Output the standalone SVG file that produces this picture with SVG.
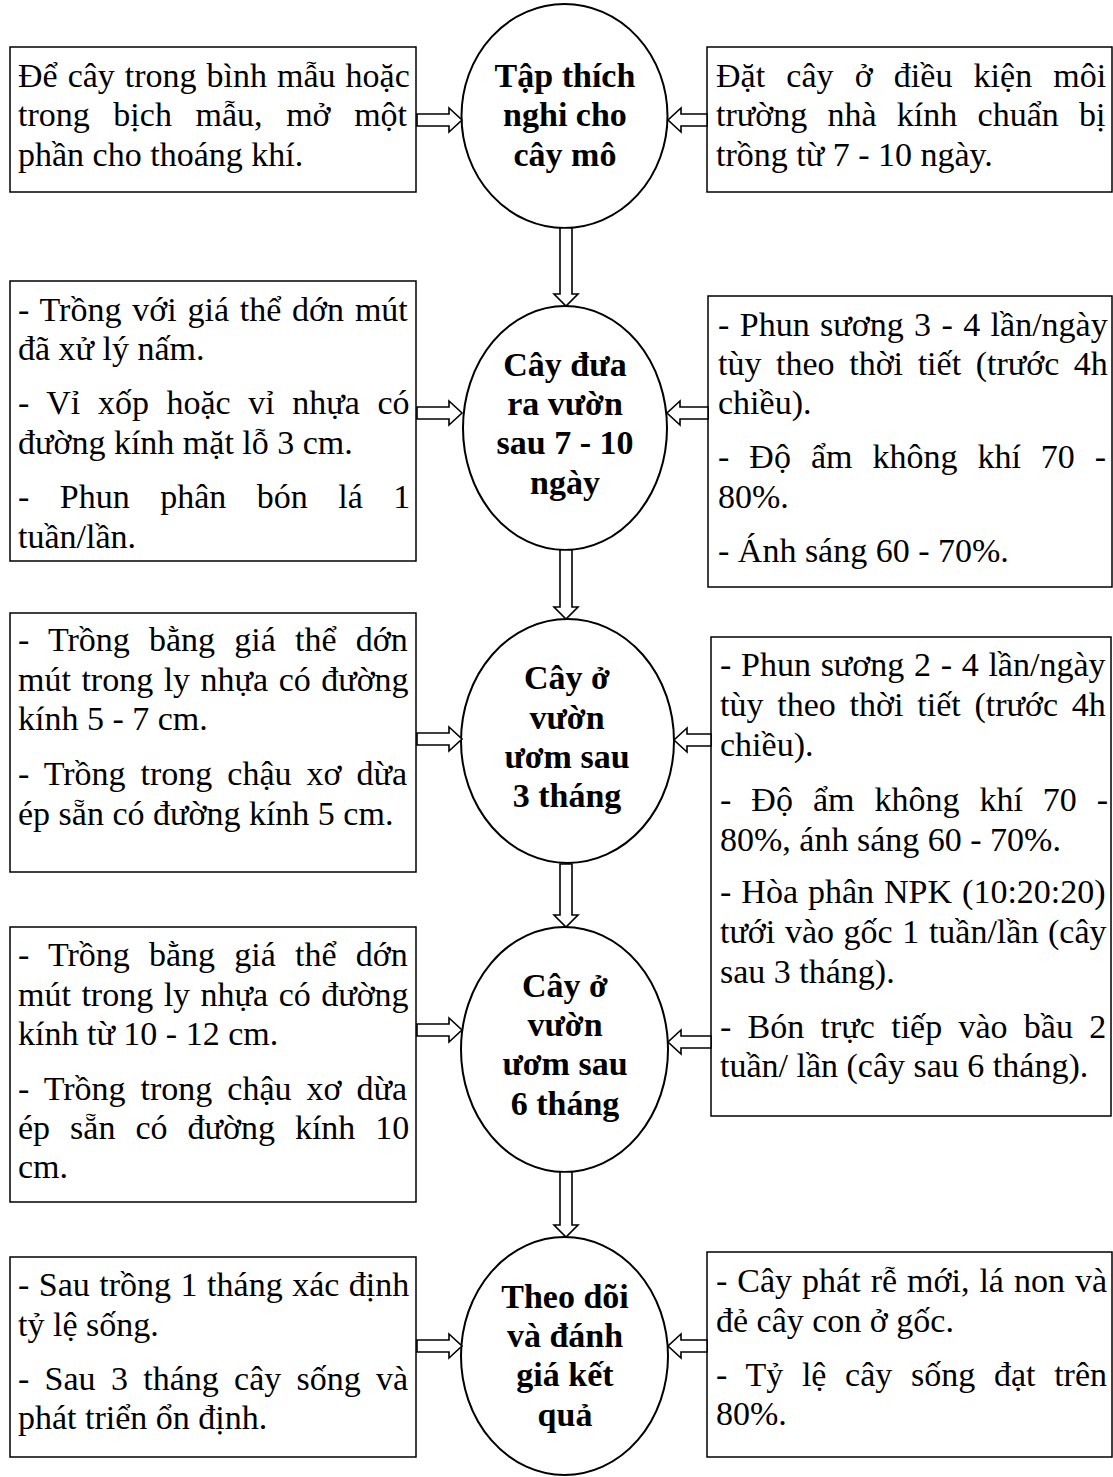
<svg xmlns="http://www.w3.org/2000/svg" width="1113" height="1477" viewBox="0 0 1113 1477">
  <style>
    .box { fill: #fff; stroke: #000; stroke-width: 1.5; }
    .node { fill: #fff; stroke: #000; stroke-width: 2; }
    .arrow { fill: #fff; stroke: #000; stroke-width: 1.6; stroke-linejoin: miter; }
    text { font-family: "Liberation Serif", "Times New Roman", serif; font-size: 34px; fill: #000; }
    .title { font-weight: bold; text-anchor: middle; }
  </style>
  <rect width="1113" height="1477" fill="#fff"/>

  <!-- step 1 -->
  <g id="left-1">
    <rect class="box" x="10" y="47" width="406" height="145"/>
    <text x="18" y="87" style="word-spacing:1.5px">Để cây trong bình mẫu hoặc</text>
    <text x="18" y="126" style="word-spacing:15.1px">trong bịch mẫu, mở một</text>
    <text x="18" y="166">phần cho thoáng khí.</text>
  </g>
  <g id="node-1">
    <ellipse class="node" cx="564.5" cy="116" rx="103" ry="112"/>
    <text class="title" x="565" y="87">Tập thích</text>
    <text class="title" x="565" y="126">nghi cho</text>
    <text class="title" x="565" y="166">cây mô</text>
  </g>
  <g id="right-1">
    <rect class="box" x="707" y="47" width="405" height="145"/>
    <text x="716" y="87" style="word-spacing:12.7px">Đặt cây ở điều kiện môi</text>
    <text x="716" y="126" style="word-spacing:11.8px">trường nhà kính chuẩn bị</text>
    <text x="716" y="166">trồng từ 7 - 10 ngày.</text>
  </g>

  <!-- step 2 -->
  <g id="left-2">
    <rect class="box" x="10" y="281" width="406" height="280"/>
    <text x="18" y="321" style="word-spacing:2.3px">- Trồng với giá thể dớn mút</text>
    <text x="18" y="360">đã xử lý nấm.</text>
    <text x="18" y="414" style="word-spacing:9.1px">- Vỉ xốp hoặc vỉ nhựa có</text>
    <text x="18" y="454">đường kính mặt lỗ 3 cm.</text>
    <text x="18" y="508" style="word-spacing:22px">- Phun phân bón lá 1</text>
    <text x="18" y="548">tuần/lần.</text>
  </g>
  <g id="node-2">
    <ellipse class="node" cx="565" cy="428" rx="102" ry="122"/>
    <text class="title" x="565" y="376">Cây đưa</text>
    <text class="title" x="565" y="415">ra vườn</text>
    <text class="title" x="565" y="454">sau 7 - 10</text>
    <text class="title" x="565" y="494">ngày</text>
  </g>
  <g id="right-2">
    <rect class="box" x="708" y="296" width="404" height="291"/>
    <text x="718" y="336" style="word-spacing:1.9px">- Phun sương 3 - 4 lần/ngày</text>
    <text x="718" y="375" style="word-spacing:6.1px">tùy theo thời tiết (trước 4h</text>
    <text x="718" y="414">chiều).</text>
    <text x="718" y="468" style="word-spacing:11.5px">- Độ ẩm không khí 70 -</text>
    <text x="718" y="508">80%.</text>
    <text x="718" y="562">- Ánh sáng 60 - 70%.</text>
  </g>

  <!-- step 3 -->
  <g id="left-3">
    <rect class="box" x="10" y="613" width="406" height="259"/>
    <text x="18" y="651" style="word-spacing:10.7px">- Trồng bằng giá thể dớn</text>
    <text x="18" y="691" style="word-spacing:2px">mút trong ly nhựa có đường</text>
    <text x="18" y="730">kính 5 - 7 cm.</text>
    <text x="18" y="785" style="word-spacing:6.5px">- Trồng trong chậu xơ dừa</text>
    <text x="18" y="825">ép sẵn có đường kính 5 cm.</text>
  </g>
  <g id="node-3">
    <ellipse class="node" cx="567.5" cy="741" rx="106.5" ry="122"/>
    <text class="title" x="567" y="689">Cây ở</text>
    <text class="title" x="567" y="729">vườn</text>
    <text class="title" x="567" y="768">ươm sau</text>
    <text class="title" x="567" y="807">3 tháng</text>
  </g>
  <g id="right-3">
    <rect class="box" x="711" y="637" width="400" height="479"/>
    <text x="720" y="676" style="word-spacing:1.2px">- Phun sương 2 - 4 lần/ngày</text>
    <text x="720" y="716" style="word-spacing:5.3px">tùy theo thời tiết (trước 4h</text>
    <text x="720" y="756">chiều).</text>
    <text x="720" y="811" style="word-spacing:11.5px">- Độ ẩm không khí 70 -</text>
    <text x="720" y="851">80%, ánh sáng 60 - 70%.</text>
    <text x="720" y="903" style="word-spacing:1.5px">- Hòa phân NPK (10:20:20)</text>
    <text x="720" y="943" style="word-spacing:1.1px">tưới vào gốc 1 tuần/lần (cây</text>
    <text x="720" y="983">sau 3 tháng).</text>
    <text x="720" y="1038" style="word-spacing:7.8px">- Bón trực tiếp vào bầu 2</text>
    <text x="720" y="1077">tuần/ lần (cây sau 6 tháng).</text>
  </g>

  <!-- step 4 -->
  <g id="left-4">
    <rect class="box" x="10" y="927" width="406" height="275"/>
    <text x="18" y="966" style="word-spacing:10.7px">- Trồng bằng giá thể dớn</text>
    <text x="18" y="1006" style="word-spacing:2px">mút trong ly nhựa có đường</text>
    <text x="18" y="1045">kính từ 10 - 12 cm.</text>
    <text x="18" y="1100" style="word-spacing:6.5px">- Trồng trong chậu xơ dừa</text>
    <text x="18" y="1139" style="word-spacing:11.5px">ép sẵn có đường kính 10</text>
    <text x="18" y="1178">cm.</text>
  </g>
  <g id="node-4">
    <ellipse class="node" cx="564.5" cy="1049.5" rx="103.5" ry="122.5"/>
    <text class="title" x="565" y="997">Cây ở</text>
    <text class="title" x="565" y="1036">vườn</text>
    <text class="title" x="565" y="1075">ươm sau</text>
    <text class="title" x="565" y="1115">6 tháng</text>
  </g>

  <!-- step 5 -->
  <g id="left-5">
    <rect class="box" x="10" y="1257" width="406" height="200"/>
    <text x="18" y="1296" style="word-spacing:1px">- Sau trồng 1 tháng xác định</text>
    <text x="18" y="1336">tỷ lệ sống.</text>
    <text x="18" y="1390" style="word-spacing:6.8px">- Sau 3 tháng cây sống và</text>
    <text x="18" y="1429">phát triển ổn định.</text>
  </g>
  <g id="node-5">
    <ellipse class="node" cx="564.5" cy="1356" rx="103.5" ry="119"/>
    <text class="title" x="565" y="1308">Theo dõi</text>
    <text class="title" x="565" y="1347">và đánh</text>
    <text class="title" x="565" y="1386">giá kết</text>
    <text class="title" x="565" y="1426">quả</text>
  </g>
  <g id="right-5">
    <rect class="box" x="707" y="1252" width="405" height="205"/>
    <text x="716" y="1292" style="word-spacing:1.5px">- Cây phát rễ mới, lá non và</text>
    <text x="716" y="1332">đẻ cây con ở gốc.</text>
    <text x="716" y="1386" style="word-spacing:10.2px">- Tỷ lệ cây sống đạt trên</text>
    <text x="716" y="1425">80%.</text>
  </g>

  <!-- block arrows -->
  <g id="connectors">
    <!-- side boxes into the left of each node -->
    <polygon class="arrow" points="417,114 449,114 449,108 462,120 449,132 449,126 417,126"/>
    <polygon class="arrow" points="417,407 449,407 449,401 462,413 449,425 449,419 417,419"/>
    <polygon class="arrow" points="417,733 449,733 449,727 462,739 449,751 449,745 417,745"/>
    <polygon class="arrow" points="417,1024 449,1024 449,1018 462,1030 449,1042 449,1036 417,1036"/>
    <polygon class="arrow" points="417,1340 449,1340 449,1334 462,1346 449,1358 449,1352 417,1352"/>
    <!-- side boxes into the right of each node -->
    <polygon class="arrow" points="707,114 681,114 681,108 668,120 681,132 681,126 707,126"/>
    <polygon class="arrow" points="708,407 680,407 680,401 667,413 680,425 680,419 708,419"/>
    <polygon class="arrow" points="711,734 687,734 687,728 674,740 687,752 687,746 711,746"/>
    <polygon class="arrow" points="711,1036 681,1036 681,1030 668,1042 681,1054 681,1048 711,1048"/>
    <polygon class="arrow" points="707,1340 681,1340 681,1334 668,1346 681,1358 681,1352 707,1352"/>
    <!-- node to node -->
    <polygon class="arrow" points="560,228 572,228 572,294 578,294 566,306 554,294 560,294"/>
    <polygon class="arrow" points="560,550 572,550 572,607 578,607 566,619 554,607 560,607"/>
    <polygon class="arrow" points="560,864 572,864 572,915 578,915 566,927 554,915 560,915"/>
    <polygon class="arrow" points="560,1172 572,1172 572,1225 578,1225 566,1237 554,1225 560,1225"/>
  </g>
</svg>
